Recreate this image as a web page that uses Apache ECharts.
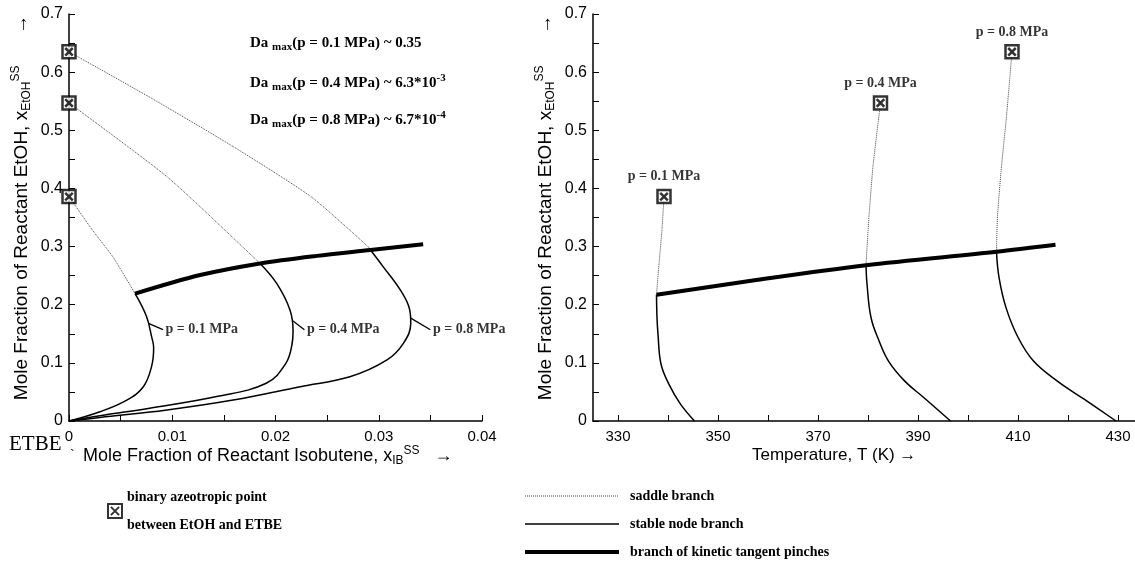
<!DOCTYPE html>
<html>
<head>
<meta charset="utf-8">
<script src="https://cdn.jsdelivr.net/npm/echarts@6/dist/echarts.min.js"></script>
<style>
html, body { margin: 0; padding: 0; background: #fff; }
#chart { width: 1135px; height: 566px; }
</style>
</head>
<body>
<div id="chart"></div>
<script>
// pressures of the three curve families
const pressures = ['p = 0.1 MPa', 'p = 0.4 MPa', 'p = 0.8 MPa']

// left panel: x_IB vs x_EtOH
const azeoLeft = [[0, 0.386], [0, 0.547], [0, 0.635]]
const saddleLeft = [
    [[0, 0.386], [0.0022, 0.330], [0.0043, 0.281], [0.0064, 0.219]],
    [[0, 0.547], [0.0095, 0.420], [0.0178, 0.283], [0.0185, 0.271]],
    [[0, 0.635], [0.008, 0.555], [0.0159, 0.472], [0.0235, 0.385], [0.0292, 0.296]]
]
const stableLeft = [
    [[0.0064, 0.219], [0.0075, 0.180], [0.0080, 0.145], [0.0082, 0.126], [0.0080, 0.094], [0.0072, 0.059], [0.0056, 0.036], [0.0030, 0.016], [0, 0]],
    [[0.0185, 0.271], [0.0201, 0.237], [0.0214, 0.191], [0.0217, 0.155], [0.0216, 0.132], [0.0210, 0.099], [0.0191, 0.065], [0.0143, 0.042], [0.0078, 0.022], [0.0030, 0.009], [0, 0]],
    [[0.0292, 0.294], [0.0304, 0.266], [0.0321, 0.225], [0.0330, 0.191], [0.0331, 0.168], [0.0324, 0.134], [0.0308, 0.105], [0.0272, 0.076], [0.0224, 0.059], [0.0159, 0.036], [0.0095, 0.019], [0.0030, 0.006], [0, 0]]
]
const pinchLeft = [[0.0064, 0.219], [0.0127, 0.251], [0.0185, 0.271], [0.0240, 0.284], [0.0292, 0.294], [0.0343, 0.304]]
const leaderLeft = [
    [[0.0077, 0.168], [0.0091, 0.157]],
    [[0.0217, 0.172], [0.0228, 0.157]],
    [[0.0331, 0.177], [0.0350, 0.157]]
]

// right panel: T vs x_EtOH
const azeoRight = [[339.2, 0.386], [382.5, 0.547], [408.8, 0.635]]
const saddleRight = [
    [[339.2, 0.386], [338.8, 0.330], [338.2, 0.270], [337.7, 0.217]],
    [[382.5, 0.547], [381.0, 0.438], [380.2, 0.352], [379.6, 0.269]],
    [[408.8, 0.635], [407.7, 0.524], [406.7, 0.438], [405.9, 0.352], [405.7, 0.291]]
]
const stableRight = [
    [[337.7, 0.217], [337.8, 0.178], [338.0, 0.149], [338.6, 0.098], [340.2, 0.063], [342.5, 0.029], [345.3, 0]],
    [[379.6, 0.269], [379.8, 0.236], [380.6, 0.178], [382.2, 0.138], [384.1, 0.103], [387.3, 0.069], [391.2, 0.040], [396.5, 0]],
    [[405.7, 0.291], [406.2, 0.247], [407.6, 0.195], [410.0, 0.144], [413.1, 0.103], [417.8, 0.069], [423.3, 0.037], [429.6, 0]]
]
const pinchRight = [[337.7, 0.217], [358, 0.243], [379.6, 0.268], [405.7, 0.291], [417.5, 0.303]]

// tick labels
const tTicks = [330, 340, 350, 360, 370, 380, 390, 400, 410, 420, 430]
const tLabels = [330, 350, 370, 390, 410, 430]

const daLines = [
    'Da {s|max}(p = 0.1 MPa) ~ 0.35',
    'Da {s|max}(p = 0.4 MPa) ~ 6.3*10{e|-3}',
    'Da {s|max}(p = 0.8 MPa) ~ 6.7*10{e|-4}'
]

const NAME_SADDLE = 'saddle branch'
const NAME_STABLE = 'stable node branch'
const NAME_PINCH = 'branch of kinetic tangent pinches'
const NAME_AZEO = 'binary azeotropic point\nbetween EtOH and ETBE'

const boxSymbol = 'path://M0 0H12V12H0Z M2.5 2.5L9.5 9.5 M9.5 2.5L2.5 9.5'
const sans = 'Liberation Sans, Arial, sans-serif'
const serif = 'Liberation Serif, Times New Roman, serif'

const nameRich = {
    t: { fontSize: 19, fontFamily: sans, color: '#000' },
    sub: { fontSize: 12, fontFamily: sans, color: '#000', padding: [10, 0, 0, 0] },
    sup: { fontSize: 12, fontFamily: sans, color: '#000', padding: [0, 0, 11, 0] }
}

const saddleStyle = { color: '#444', width: 1, type: 'dotted', smooth: 0.2, z: 2 }
const stableStyle = { color: '#000', width: 1.5, type: 'solid', smooth: 0.4, z: 3 }
const pinchStyle = { color: '#000', width: 4, type: 'solid', smooth: 0.3, z: 4 }
const leaderStyle = { color: '#000', width: 1.3, type: 'solid', smooth: false, z: 3 }

function lineSeries(name, data, axis, style) {
    return {
        name: name,
        type: 'line',
        xAxisIndex: axis,
        yAxisIndex: axis,
        data: data,
        symbol: 'none',
        smooth: style.smooth,
        clip: false,
        itemStyle: { color: '#000' },
        lineStyle: { color: style.color, width: style.width, type: style.type },
        z: style.z
    }
}

const series = []
for (let i = 0; i < 3; i++) {
    series.push(lineSeries(NAME_SADDLE, saddleLeft[i], 0, saddleStyle))
    series.push(lineSeries(NAME_STABLE, stableLeft[i], 0, stableStyle))
    series.push(lineSeries('', leaderLeft[i], 0, leaderStyle))
    series.push(lineSeries(NAME_SADDLE, saddleRight[i], 1, saddleStyle))
    series.push(lineSeries(NAME_STABLE, stableRight[i], 1, stableStyle))
}
series.push(lineSeries(NAME_PINCH, pinchLeft, 0, pinchStyle))
series.push(lineSeries(NAME_PINCH, pinchRight, 1, pinchStyle))

// pressure tags next to the leaders, left panel
series.push({
    type: 'scatter',
    xAxisIndex: 0,
    yAxisIndex: 0,
    symbolSize: 1,
    itemStyle: { color: 'rgba(0,0,0,0)' },
    data: leaderLeft.map(function (l) { return l[1] }),
    label: {
        show: true,
        position: 'right',
        distance: 2,
        formatter: function (p) { return pressures[p.dataIndex] },
        fontFamily: serif,
        fontWeight: 'bold',
        fontSize: 14,
        color: '#000'
    },
    z: 5
})

const azeoStyle = { color: '#fff', borderColor: '#000', borderWidth: 2.5 }
series.push({
    name: NAME_AZEO,
    type: 'scatter',
    xAxisIndex: 0,
    yAxisIndex: 0,
    symbol: boxSymbol,
    symbolSize: 13,
    clip: false,
    itemStyle: azeoStyle,
    data: azeoLeft,
    z: 6
})
series.push({
    name: NAME_AZEO,
    type: 'scatter',
    xAxisIndex: 1,
    yAxisIndex: 1,
    symbol: boxSymbol,
    symbolSize: 13,
    clip: false,
    itemStyle: azeoStyle,
    data: azeoRight,
    label: {
        show: true,
        position: 'top',
        distance: 5,
        formatter: function (p) { return pressures[p.dataIndex] },
        fontFamily: serif,
        fontWeight: 'bold',
        fontSize: 14,
        color: '#000'
    },
    z: 6
})

const axisCommon = {
    axisLine: { lineStyle: { color: '#000', width: 1.5 } },
    axisTick: { inside: true, length: 6, lineStyle: { color: '#000', width: 1 } },
    splitLine: { show: false },
    axisLabel: { color: '#000', fontFamily: sans, fontSize: 15 }
}

function yAxis(grid) {
    return Object.assign({}, axisCommon, {
        type: 'value',
        gridIndex: grid,
        min: 0,
        max: 0.7,
        interval: 0.1,
        minorTick: { show: true, splitNumber: 2, length: 6, lineStyle: { color: '#000' } },
        axisLabel: { color: '#000', fontFamily: sans, fontSize: 16, margin: 6 },
        name: '{t|Mole Fraction of Reactant EtOH, x}{sub|EtOH}{sup|SS}{t|      →}',
        nameLocation: 'middle',
        nameRotate: 90,
        nameGap: 36,
        nameTextStyle: { rich: nameRich, padding: [0, 0, 0, 20] }
    })
}

function legendLine(name, style) {
    return { name: name, lineStyle: { width: style.width, type: style.type, color: style.color } }
}

const option = {
    animation: false,
    backgroundColor: '#fff',
    grid: [
        { left: 69, top: 14, width: 413, height: 407 },
        { left: 593, top: 14, width: 542, height: 407 }
    ],
    xAxis: [
        Object.assign({}, axisCommon, {
            type: 'value',
            gridIndex: 0,
            min: 0,
            max: 0.04,
            interval: 0.01,
            minorTick: { show: true, splitNumber: 2, length: 6, lineStyle: { color: '#000' } }
        }),
        Object.assign({}, axisCommon, {
            type: 'value',
            gridIndex: 1,
            min: 325,
            max: 433.4,
            axisTick: { inside: true, length: 6, customValues: tTicks, lineStyle: { color: '#000' } },
            axisLabel: { color: '#000', fontFamily: sans, fontSize: 15, customValues: tLabels }
        })
    ],
    yAxis: [yAxis(0), yAxis(1)],
    legend: [
        {
            left: 102,
            top: 478,
            selectedMode: false,
            itemWidth: 14,
            itemHeight: 14,
            itemGap: 6,
            data: [NAME_AZEO],
            textStyle: { fontFamily: serif, fontWeight: 'bold', fontSize: 14, color: '#000', lineHeight: 28 }
        },
        {
            left: 518,
            top: 484,
            orient: 'vertical',
            selectedMode: false,
            itemWidth: 94,
            itemHeight: 14,
            itemGap: 14,
            itemStyle: { opacity: 0 },
            data: [
                legendLine(NAME_SADDLE, saddleStyle),
                legendLine(NAME_STABLE, stableStyle),
                legendLine(NAME_PINCH, pinchStyle)
            ],
            textStyle: { fontFamily: serif, fontWeight: 'bold', fontSize: 14, color: '#000', padding: [0, 0, 0, 6] }
        }
    ],
    graphic: daLines.map(function (t, i) {
        return {
            type: 'text',
            left: 250,
            top: 36 + i * 37,
            style: {
                text: t,
                fill: '#000',
                font: 'bold 15px ' + serif,
                rich: {
                    s: { fontSize: 11, fontWeight: 'bold', fontFamily: serif, padding: [8, 0, 0, 0] },
                    e: { fontSize: 11, fontWeight: 'bold', fontFamily: serif, padding: [0, 0, 10, 0] }
                }
            }
        }
    }).concat([
        {
            type: 'text',
            left: 9,
            top: 434,
            style: { text: 'ETBE', fill: '#000', font: '21px ' + serif }
        },
        {
            type: 'text',
            left: 70,
            top: 449,
            style: { text: '`', fill: '#000', font: '14px ' + sans }
        },
        {
            type: 'text',
            left: 83,
            top: 445,
            style: {
                text: '{t|Mole Fraction of Reactant Isobutene, x}{sub|IB}{sup|SS}{t|   →}',
                rich: {
                    t: { fontSize: 18, fontFamily: sans, color: '#000' },
                    sub: { fontSize: 12, fontFamily: sans, color: '#000', padding: [10, 0, 0, 0] },
                    sup: { fontSize: 12, fontFamily: sans, color: '#000', padding: [0, 0, 10, 0] }
                }
            }
        },
        {
            type: 'text',
            left: 752,
            top: 447,
            style: { text: 'Temperature, T (K) →', fill: '#000', font: '17px ' + sans }
        }
    ]),
    series: series
}

const chart = echarts.init(document.getElementById('chart'))
chart.setOption(option)
</script>
</body>
</html>
